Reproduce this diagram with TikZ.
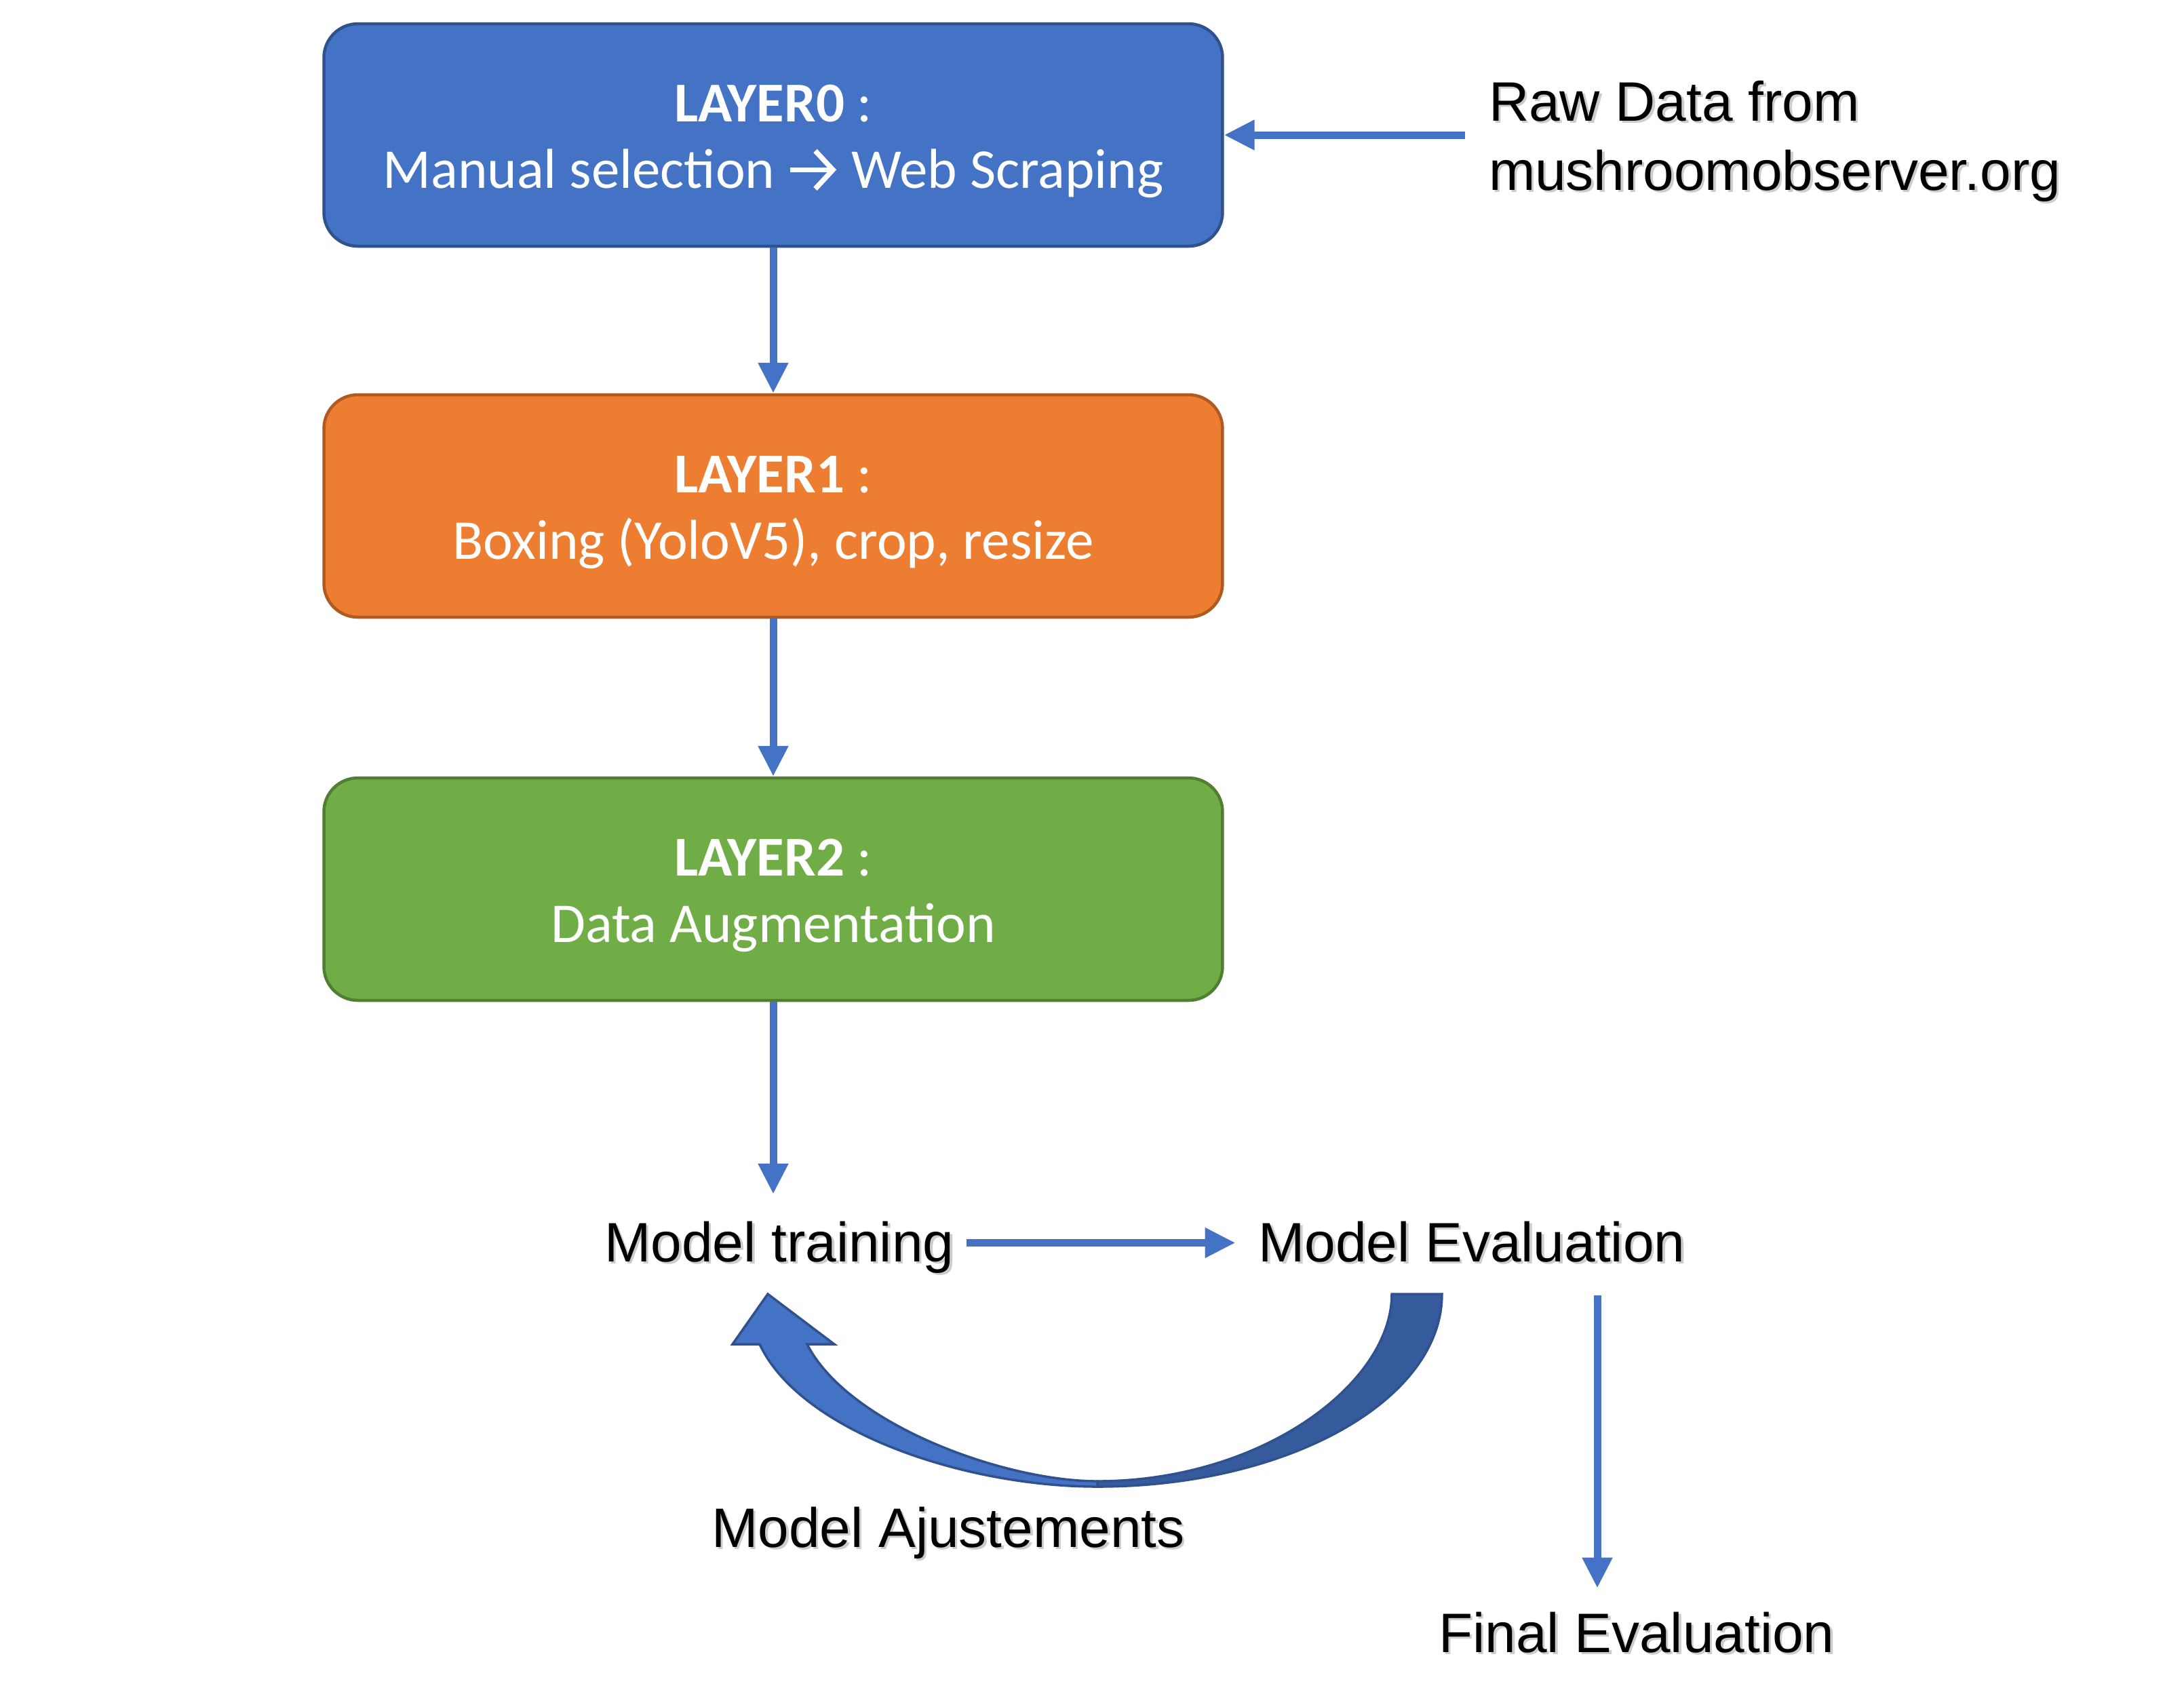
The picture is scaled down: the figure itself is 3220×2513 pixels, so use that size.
\documentclass[tikz,border=0pt]{standalone}
\usepackage{fontspec}
\setmainfont{Liberation Sans}
\newfontfamily\calib{Carlito}
\usetikzlibrary{arrows.meta,calc}
\definecolor{c0}{HTML}{4472C4}
\definecolor{c0d}{HTML}{2F528F}
\definecolor{c1}{HTML}{ED7D31}
\definecolor{c1d}{HTML}{AE5A21}
\definecolor{c2}{HTML}{70AD47}
\definecolor{c2d}{HTML}{507E32}
\definecolor{cdk}{HTML}{365B9D}
\newcommand\shd[1]{\leavevmode\rlap{\kern0.35pt\raisebox{-0.35pt}{\textcolor{black!20}{#1}}}#1}
\newcommand\rarr{\tikz[baseline=0pt]\draw[white,line width=0.75pt,-{Straight Barb[length=2.6pt,width=5.6pt]}] (0pt,2.7pt) -- (6.8pt,2.7pt);}
\newcommand\topstrut{\rule{0pt}{7.3pt}}
\begin{document}
\begin{tikzpicture}[x=0.1pt,y=-0.1pt,
  layer/.style={draw, line width=0.45pt, rounded corners=5pt, minimum width=132.5pt,
    minimum height=32.8pt, text=white, align=center,
    font=\calib\fontsize{8.3pt}{9.8pt}\selectfont, inner sep=0pt},
  conn/.style={draw=c0, line width=1.1pt, -{Triangle[width=4.2pt,length=4.5pt]}},
  lbl/.style={font=\fontsize{8.2pt}{10.2pt}\selectfont, inner sep=0pt, text=black},
  band/.style={draw=c0d, line width=0.35pt}]

\useasboundingbox (0,0) rectangle (3220,2513);
\fill[white] (0,0) rectangle (3220,2513);

% layer boxes
\node[layer, fill=c0, draw=c0d] (b0) at (1140,199) {\topstrut\textbf{LAYER0} :\\Manual selection \rarr\ Web Scraping};
\node[layer, fill=c1, draw=c1d] (b1) at (1140,746) {\topstrut\textbf{LAYER1} :\\Boxing (YoloV5), crop, resize};
\node[layer, fill=c2, draw=c2d] (b2) at (1140,1311) {\topstrut\textbf{LAYER2} :\\Data Augmentation};

% plain labels
\node[lbl, anchor=west, align=left] (raw) at (2193,210) {\shd{Raw Data from}\\\shd{mushroomobserver.org}};
\node[lbl, anchor=base] (mt) at (1149,1860) {\shd{Model training}};
\node[lbl, anchor=base] (me) at (2170,1860) {\shd{Model Evaluation}};
\node[lbl, anchor=base] (ma) at (1398,2281) {\shd{Model Ajustements}};
\node[lbl, anchor=base] (fe) at (2413,2436) {\shd{Final Evaluation}};

% connectors
\draw[conn] (b0.south) -- (b1.north);
\draw[conn] (b1.south) -- (b2.north);
\draw[conn] (b2.south) -- ($(b2.south |- mt.north)+(0,3.8pt)$);
\draw[conn] ($(raw.west |- b0.east)+(-3.3pt,0)$) -- (b0.east);
\draw[conn] ($(mt.east |- me.west)+(1.6pt,0)$) -- ($(me.west)+(-3.2pt,0)$);
\coordinate (fa) at (2355,1910);
\draw[conn] (fa) -- ($(fa |- fe.north)+(0,3.3pt)$);

% curved block arrow (model adjustments)
\filldraw[band, fill=cdk] (2052,1908) .. controls (2052,2040) and (1860,2184) .. (1618,2184)
  -- (1618,2192) .. controls (1898,2192) and (2126,2065) .. (2126,1908) -- cycle;
\filldraw[band, fill=c0] (1132,1908) -- (1230,1982) -- (1190,1982)
  .. controls (1250,2100) and (1480,2184) .. (1618,2184)
  -- (1618,2192) .. controls (1420,2192) and (1180,2110) .. (1120,1982)
  -- (1080,1982) -- cycle;
\end{tikzpicture}
\end{document}
